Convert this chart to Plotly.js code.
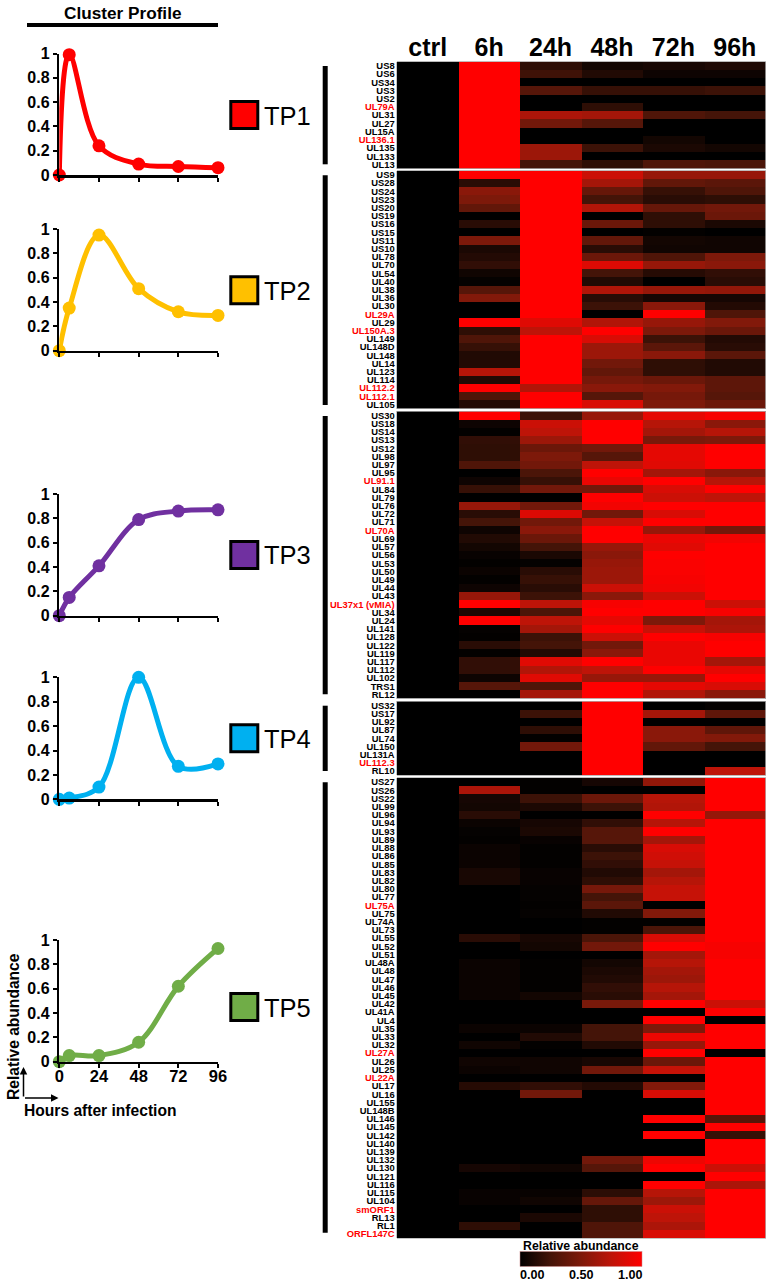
<!DOCTYPE html>
<html><head><meta charset="utf-8">
<script src="https://cdn.plot.ly/plotly-3.0.1.min.js"></script>
<style>html,body{margin:0;padding:0;background:#fff}#c{width:767px;height:1282px}</style>
</head><body><div id="c"></div>
<script>
const hours=[0,6,24,48,72,96];
const xTicks=[0,24,48,72,96];
const columns=['ctrl','6h','24h','48h','72h','96h'];
const clusterNames=['TP1','TP2','TP3','TP4','TP5'];
const clusterColors=['#ff0000','#ffc000','#7030a0','#00b0f0','#70ad47'];
const scaleLabels=['0.00','0.50','1.00'];
const tp1Profile=[0,0.99,0.24,0.09,0.07,0.06];
const tp2Profile=[0,0.35,0.95,0.51,0.32,0.29];
const tp3Profile=[0,0.15,0.41,0.79,0.86,0.87];
const tp4Profile=[0,0.01,0.10,1,0.27,0.29];
const tp5Profile=[0,0.05,0.05,0.16,0.62,0.93];
const redGenes=['UL79A','UL136.1','UL29A','UL150A.3','UL112.2','UL112.1','UL91.1','UL70A','UL37x1 (vMIA)','UL112.3','UL75A','UL27A','UL22A','smORF1','ORFL147C'];
// each row: gene, 6h, 24h, 48h, 72h, 96h (ctrl is 0 for every gene)
const tp1Rows=[
['US8',1,.16,.07,.09,.11],['US6',1,.23,.12,.05,.05],['US34',1,0,0,0,0],['US3',1,.33,.2,.2,.22],['US2',1,0,0,0,0],
['UL79A',1,0,.17,0,0],['UL31',1,.68,.65,.3,.25],['UL27',1,.45,.33,0,0],['UL15A',1,0,0,0,0],['UL136.1',1,0,0,.07,0],
['UL135',1,.62,.22,.1,.07],['UL133',1,.62,0,0,0],['UL13',1,.25,.17,.3,.28]];
const tp2Rows=[
['US9',1,1,.8,.6,.6],['US28',.15,1,.65,.38,.35],['US24',.55,1,.4,.2,.3],['US23',.5,1,.25,.15,.17],['US20',.38,1,.7,.4,.45],
['US19',0,1,0,.17,.42],['US16',.15,1,.42,.17,.1],['US15',0,1,0,.01,0],['US11',.5,1,.38,.07,.06],['US10',.1,1,.15,.06,.06],
['UL78',.13,1,.42,.3,.5],['UL70',.18,1,.87,.6,.55],['UL54',.06,1,.25,.14,.18],['UL40',.02,1,.12,0,.15],['UL38',.33,1,.7,.6,.58],
['UL36',.52,1,.15,.08,.08],['UL30',0,1,.22,.55,.13],['UL29A',0,1,0,1,.3],['UL29',1,.88,.7,.6,.52],['UL150A.3',.17,.75,1,.5,.42],
['UL149',.3,1,.85,.22,.13],['UL148D',.2,1,.62,.35,.15],['UL148',.12,1,.62,.55,.35],['UL14',.12,1,.45,.17,.12],['UL123',.72,1,.38,.17,.12],
['UL114',.12,1,.47,.42,.36],['UL112.2',1,.7,.55,.52,.36],['UL112.1',.3,1,.33,.47,.33],['UL105',.13,1,.85,.5,.42]];
const tp3Rows=[
['US30',1,.22,.6,.9,.97],['US18',.05,.8,1,.72,.55],['US14',.01,.75,1,.65,.72],['US13',.18,.62,1,.48,.5],['US12',.17,.42,.45,.9,1],
['UL98',.17,.5,.33,.9,1],['UL97',.3,.45,.75,.88,1],['UL95',0,.28,1,.65,.55],['UL91.1',.05,.2,.92,1,.72],['UL84',.2,.45,.45,.85,1],
['UL79',0,0,1,.8,.75],['UL76',.6,.45,.95,1,1],['UL72',.15,.87,.45,.85,1],['UL71',.25,.45,.78,1,1],['UL70A',.05,.55,1,.6,.45],
['UL69',.12,.42,1,.92,.95],['UL57',.07,.25,.6,.88,1],['UL56',.03,.1,.55,1,1],['UL53',.01,.02,.6,.98,1],['UL50',.04,.15,.62,.98,1],
['UL49',.01,.2,.62,.97,1],['UL44',.05,.15,.8,.95,1],['UL43',.6,.22,.55,.8,1],['UL37x1 (vMIA)',1,.75,.97,1,.8],['UL34',.1,.28,1,1,.97],
['UL24',1,.75,.9,.5,.65],['UL141',.02,.65,1,.78,.68],['UL128',.01,.22,.8,1,.97],['UL122',.15,.25,.45,.92,1],['UL119',.01,.13,.55,.92,1],
['UL117',.18,.88,1,.92,.65],['UL112',.18,.7,.75,1,.9],['UL102',.05,.88,.6,.6,1],['TRS1',.33,.3,1,.9,.85],['RL12',0,.65,1,.7,.55]];
const tp4Rows=[
['US32',0,0,1,0,.02],['US17',0,.22,1,.65,.37],['UL92',0,0,1,0,0],['UL87',0,.17,1,.55,.37],['UL74',0,.01,1,.55,.52],
['UL150',0,.45,1,.38,.25],['UL131A',0,0,1,0,0],['UL112.3',0,0,1,0,0],['RL10',0,0,1,0,.75]];
const tp5Rows=[
['US27',0,.01,.08,.58,1],['US26',.68,.01,0,0,1],['US22',.08,.22,.42,.72,1],['UL99',.07,.1,.22,.7,1],['UL96',.15,0,0,1,.6],
['UL94',.04,.08,.18,.72,1],['UL93',.02,.1,.33,1,1],['UL89',.01,.03,.33,.65,1],['UL88',.04,.01,.15,.85,1],['UL86',.04,.01,.22,.82,1],
['UL85',.04,.01,.18,.78,1],['UL83',.09,.03,.12,.65,1],['UL82',.09,.03,.17,.72,1],['UL80',0,.02,.47,.78,1],['UL77',0,.02,.25,.78,1],
['UL75A',0,.01,.35,0,1],['UL75',0,.02,.12,.52,1],['UL74A',0,0,.01,.01,1],['UL73',0,0,.01,.28,1],['UL55',.15,.09,.28,.85,1],
['UL52',0,.07,.45,1,.97],['UL51',0,0,0,.65,.97],['UL48A',.04,.01,.07,.72,1],['UL48',.04,.01,.1,.65,1],['UL47',.04,.01,.12,.62,1],
['UL46',.04,.01,.18,.72,1],['UL45',.04,.07,.15,.65,1],['UL42',0,0,.48,1,.8],['UL41A',0,0,0,0,1],['UL4',0,0,0,1,0],
['UL35',.04,.04,.25,.5,1],['UL33',0,.12,.25,.93,1],['UL32',.06,.01,.12,.6,1],['UL27A',0,0,0,1,0],['UL26',.06,.06,.09,.42,1],
['UL25',.04,.06,.45,.78,1],['UL22A',0,0,0,0,1],['UL17',.14,.18,.13,.52,1],['UL16',0,.45,0,.85,1],['UL155',0,0,0,0,1],
['UL148B',0,0,0,0,1],['UL146',0,0,0,1,.33],['UL145',0,0,0,0,1],['UL142',0,0,0,1,.2],['UL140',0,0,0,0,1],
['UL139',0,0,0,0,1],['UL132',0,0,.45,.93,1],['UL130',.08,.06,.33,1,.8],['UL121',0,0,0,0,1],['UL116',0,0,0,1,.68],
['UL115',.03,.03,.16,.72,1],['UL104',.03,.06,.4,.62,1],['smORF1',0,0,.17,.8,1],['RL13',0,.1,.17,.75,1],['RL1',.17,0,.3,.68,1],
['ORFL147C',0,0,.3,.85,1]];

const profiles=[tp1Profile,tp2Profile,tp3Profile,tp4Profile,tp5Profile];
const blocks=[tp1Rows,tp2Rows,tp3Rows,tp4Rows,tp5Rows];

// layout geometry in page pixels
const W=767,H=1282,FF='"Liberation Sans",Arial,sans-serif';
const px=x=>x/W, py=y=>1-y/H;
const profileBox=[[53.5,175],[229,350.7],[494,615.7],[677.3,799.3],[940,1061.7]];
const swatchY=[100,275.3,540,723.3,992];
const blockBox=[[61.7,168.7],[170.7,408.7],[411.3,698.7],[701.3,775.3],[778,1238]];
const sideBar=[[66,164.3],[175.3,405],[416,694.3],[705.7,771],[782.3,1232.7]];
const heatX=[397,765.5];
const scaleLabelX=[532,581,630];

const traces=[],layout={width:W,height:H,margin:{l:0,r:0,t:0,b:0,autoexpand:false},paper_bgcolor:'#fff',plot_bgcolor:'#fff',
  showlegend:false,font:{family:FF,color:'#000'},shapes:[],annotations:[]};
const note=(text,x,y,size,bold,extra)=>layout.annotations.push(Object.assign({text:bold?'<b>'+text+'</b>':text,xref:'paper',yref:'paper',
  x:px(x),y:py(y),xanchor:'center',yanchor:'middle',showarrow:false,font:{family:FF,size:size,color:'#000'}},extra||{}));
const rect=(x0,y0,x1,y1,fill,line,lw)=>layout.shapes.push({type:'rect',xref:'paper',yref:'paper',x0:px(x0),x1:px(x1),y0:py(y0),y1:py(y1),
  fillcolor:fill,line:{color:line||fill,width:lw||0}});

// line profiles
profiles.forEach((p,i)=>{
  const n=i+1,xa='xaxis'+(n>1?n:''),ya='yaxis'+(n>1?n:'');
  traces.push({type:'scatter',mode:'lines+markers',x:hours,y:p,xaxis:'x'+(n>1?n:''),yaxis:'y'+(n>1?n:''),cliponaxis:false,
    line:{color:clusterColors[i],width:5,shape:'spline',smoothing:1},marker:{color:clusterColors[i],size:13},hoverinfo:'skip'});
  layout[xa]={domain:[px(59.3),px(218)],range:[0,96],anchor:'y'+(n>1?n:''),tickmode:'array',tickvals:xTicks,ticktext:xTicks.map(String),
    showticklabels:i===4,ticks:'outside',ticklen:4,tickwidth:2,tickcolor:'#000',showline:true,linecolor:'#000',linewidth:2.5,showgrid:false,zeroline:false,
    tickfont:{family:FF,size:16.5,weight:'bold',color:'#000'},ticklabelstandoff:-6};
  layout[ya]={domain:[py(profileBox[i][1]),py(profileBox[i][0])],range:[0,1],anchor:'x'+(n>1?n:''),tickmode:'array',tickvals:[0,.2,.4,.6,.8,1],ticktext:['0','0.2','0.4','0.6','0.8','1'],
    ticks:'outside',ticklen:4,tickwidth:2,tickcolor:'#000',showline:true,linecolor:'#000',linewidth:2.5,showgrid:false,zeroline:false,
    tickfont:{family:FF,size:16,weight:'bold',color:'#000'}};
  rect(230.8,swatchY[i]+1.5,257.8,swatchY[i]+28.5,clusterColors[i],'#000',3);
  note(clusterNames[i],287.5,swatchY[i]+15.5,25.5,false);
});

// heat map blocks
const scale=[[0,'#000000'],[.25,'rgb(68,20,8)'],[.5,'rgb(125,25,10)'],[.75,'rgb(190,20,8)'],[1,'#ff0000']];
blocks.forEach((rows,i)=>{
  const n=i+6,genes=rows.map(r=>r[0]);
  const tr={type:'heatmap',x:columns,y:genes,z:rows.map(r=>[0].concat(r.slice(1))),xaxis:'x'+n,yaxis:'y'+n,zmin:0,zmax:1,colorscale:scale,
    xgap:0,ygap:0,showscale:i===0,hoverinfo:'skip'};
  if(i===0) tr.colorbar={orientation:'h',thickness:14.6,thicknessmode:'pixels',len:121.7,lenmode:'pixels',x:px(580.8),xanchor:'center',
    y:py(1267.3),yanchor:'bottom',yref:'paper',xpad:0,ypad:0,outlinewidth:.5,outlinecolor:'#c88',showticklabels:false,ticks:''};
  traces.push(tr);
  layout['xaxis'+n]={domain:[px(heatX[0]),px(heatX[1])],anchor:'y'+n,type:'category',categoryorder:'array',categoryarray:columns,side:'top',
    showticklabels:i===0,ticks:'',showgrid:false,zeroline:false,showline:true,mirror:true,linecolor:'#8a8a8a',linewidth:.5,
    tickfont:{family:FF,size:25,weight:'bold',color:'#000'},ticklabelstandoff:-5};
  layout['yaxis'+n]={domain:[py(blockBox[i][1]),py(blockBox[i][0])],anchor:'x'+n,type:'category',categoryorder:'array',categoryarray:genes,autorange:'reversed',
    tickmode:'array',tickvals:genes,ticktext:genes.map(g=>redGenes.includes(g)?'<span style="color:#ff0000">'+g+'</span>':g),
    ticks:'',showgrid:false,zeroline:false,showline:true,mirror:true,linecolor:'#8a8a8a',linewidth:.5,
    tickfont:{family:FF,size:9.4,weight:'bold',color:'#000'}};
  rect(322.7,sideBar[i][0],327.7,sideBar[i][1],'#000');
});

// captions and rules
note('Cluster Profile',122.5,13.5,17.2,true);
rect(27,23,218,27,'#000');
note('Relative abundance',13.5,1026.5,15.6,true,{textangle:-90});
note('Hours after infection',100,1110.5,15.6,true);
note('Relative abundance',580.5,1245.5,12.3,true);
scaleLabels.forEach((t,i)=>note(t,scaleLabelX[i],1275.3,12.6,true));
layout.annotations.push({xref:'paper',yref:'paper',x:px(23.5),y:py(1067),ax:0,ay:31,axref:'pixel',ayref:'pixel',showarrow:true,arrowhead:2,arrowsize:1,arrowwidth:1.5,arrowcolor:'#000',text:''});
layout.annotations.push({xref:'paper',yref:'paper',x:px(58.5),y:py(1098),ax:-35,ay:0,axref:'pixel',ayref:'pixel',showarrow:true,arrowhead:2,arrowsize:1,arrowwidth:1.5,arrowcolor:'#000',text:''});

Plotly.newPlot('c',traces,layout,{displayModeBar:false,staticPlot:true});
</script></body></html>
